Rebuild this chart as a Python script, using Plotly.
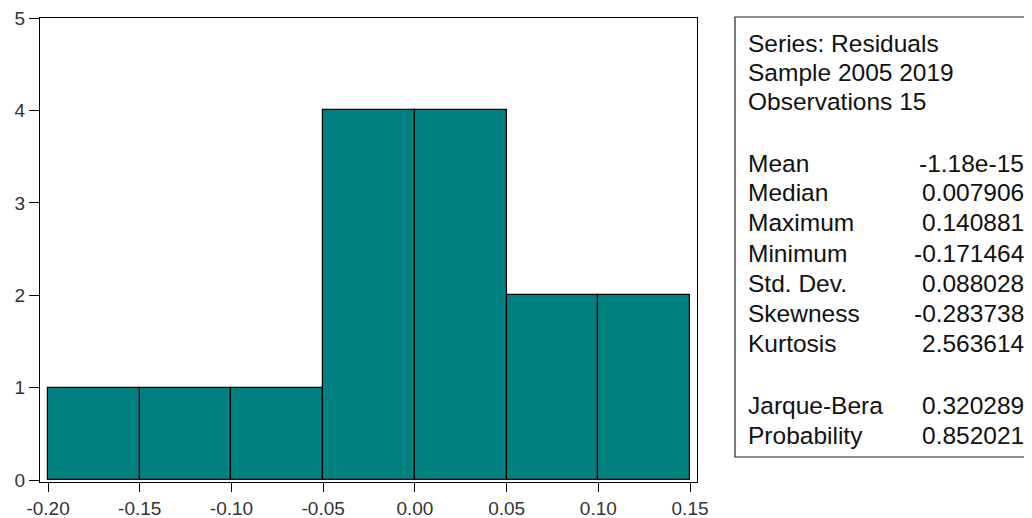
import plotly.graph_objects as go

bin_centers = [-0.175, -0.125, -0.075, -0.025, 0.025, 0.075, 0.125]
counts = [1, 1, 1, 4, 4, 2, 2]
bin_width = 0.05
x_ticks = [-0.20, -0.15, -0.10, -0.05, 0.00, 0.05, 0.10, 0.15]
x_tick_labels = ["-0.20", "-0.15", "-0.10", "-0.05", "0.00", "0.05", "0.10", "0.15"]
y_ticks = [0, 1, 2, 3, 4, 5]

header_lines = ["Series: Residuals", "Sample 2005 2019", "Observations 15"]
stat_names = ["Mean", "Median", "Maximum", "Minimum", "Std. Dev.", "Skewness", "Kurtosis"]
stat_values = ["-1.18e-15", "0.007906", "0.140881", "-0.171464", "0.088028", "-0.283738", "2.563614"]
test_names = ["Jarque-Bera", "Probability"]
test_values = ["0.320289", "0.852021"]

OFF = 8  # default page body margin
W, H = 1032 - OFF, 518 - OFF
L, R, T, B = 40 - OFF, 697 - OFF, 18 - OFF, 482 - OFF
pw, ph = R - L, B - T

def px(x):
    return (x - OFF - L) / pw

def py(y):
    return (B - (y - OFF)) / ph

fig = go.Figure()
fig.add_trace(go.Bar(
    x=bin_centers, y=counts, width=bin_width,
    marker=dict(color="#008080", line=dict(color="black", width=1.2)),
    showlegend=False,
))

font_txt = dict(family="Liberation Sans, Arial, sans-serif", size=24.5, color="#111111")
annotations = []

def add_line(text, y, x, anchor):
    annotations.append(dict(
        text=text, x=px(x), y=py(y), xref="paper", yref="paper",
        xanchor=anchor, yanchor="middle", showarrow=False, font=font_txt,
    ))

header_y = [43, 72, 102]
for t, y in zip(header_lines, header_y):
    add_line(t, y, 746, "left")
stat_y = [163, 192, 222, 253, 283, 313, 343]
for n, v, y in zip(stat_names, stat_values, stat_y):
    add_line(n, y, 746, "left")
    add_line(v, y, 1026, "right")
test_y = [405, 435]
for n, v, y in zip(test_names, test_values, test_y):
    add_line(n, y, 746, "left")
    add_line(v, y, 1026, "right")

fig.update_layout(
    width=W, height=H,
    margin=dict(l=L, r=W - R, t=T, b=H - B, pad=0),
    paper_bgcolor="white", plot_bgcolor="white",
    bargap=0,
    annotations=annotations,
    shapes=[dict(type="rect", xref="paper", yref="paper",
                 x0=px(735), x1=px(1045), y0=py(457), y1=py(17),
                 line=dict(color="#222222", width=1.2), fillcolor="rgba(0,0,0,0)")],
    font=dict(family="Liberation Sans, Arial, sans-serif", size=19, color="#333333"),
)
fig.update_xaxes(
    range=[-0.2044, 0.1538], tickvals=x_ticks, ticktext=x_tick_labels,
    showline=True, linecolor="black", linewidth=1.2, mirror=True,
    ticks="outside", ticklen=9, tickcolor="black", tickwidth=1,
    showgrid=False, zeroline=False, automargin=False,
    ticklabeloverflow="allow",
    tickfont=dict(size=19, color="#333333"),
)
fig.update_yaxes(
    range=[-0.02, 5], tickvals=y_ticks,
    showline=True, linecolor="black", linewidth=1.2, mirror=True,
    ticks="outside", ticklen=10, tickcolor="black", tickwidth=1,
    showgrid=False, zeroline=False, automargin=False,
    ticklabeloverflow="allow",
    tickfont=dict(size=19, color="#333333"),
)

fig.write_html("out.html")
